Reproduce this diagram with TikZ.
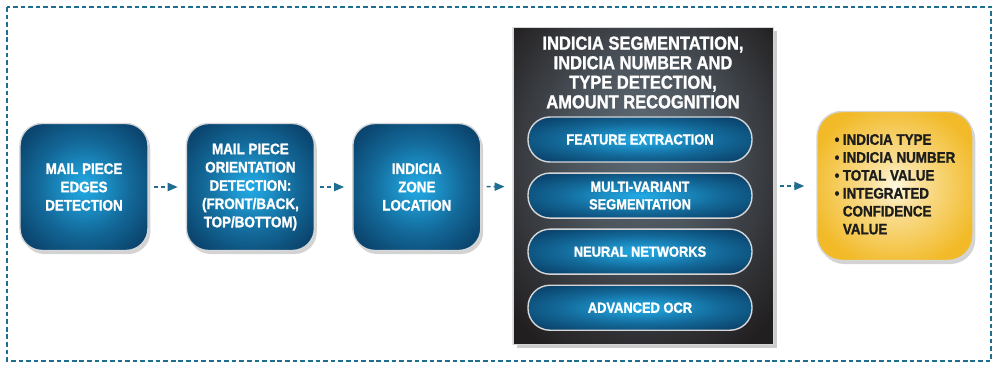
\documentclass[tikz,border=0pt]{standalone}
\usepackage{fontspec}
\newfontfamily\diagfont{Liberation Sans}[FakeStretch=0.88, FakeBold=1.3]
\usetikzlibrary{positioning,shadows,arrows.meta}

\definecolor{frameblue}{HTML}{1F6E92}
\definecolor{boxblue}{HTML}{0B4670}
\definecolor{glowcyan}{HTML}{22ABE6}
\definecolor{rimgray}{HTML}{D4D6D8}
\definecolor{panelblack}{HTML}{221F20}
\definecolor{panelglow}{HTML}{5E6B76}
\definecolor{gold}{HTML}{F2BA28}
\definecolor{goldlight}{HTML}{FEF8E2}
\definecolor{inkblack}{HTML}{1D1D1B}

% glow fills for the boxes
\pgfdeclareradialshading{blueglow}{\pgfpoint{0bp}{0bp}}{color(0bp)=(glowcyan); color(6bp)=(glowcyan!80!boxblue); color(18bp)=(glowcyan!35!boxblue); color(30bp)=(boxblue); color(50bp)=(boxblue)}
\pgfdeclareradialshading{panelshade}{\pgfpoint{0bp}{8bp}}{color(0bp)=(panelglow); color(14bp)=(panelglow!70!panelblack); color(34bp)=(panelblack); color(50bp)=(panelblack)}
\pgfdeclareradialshading{goldglow}{\pgfpoint{0bp}{0bp}}{color(0bp)=(goldlight); color(8bp)=(goldlight!60!gold); color(28bp)=(gold); color(50bp)=(gold)}

\begin{document}
\begin{tikzpicture}[x=0.03cm, y=-0.03cm,
    stage/.style={rectangle, rounded corners=0.66cm, minimum width=3.84cm, minimum height=3.81cm,
      draw=rimgray, line width=1.2pt, shade, shading=blueglow, text=white, align=center,
      font=\diagfont\bfseries\fontsize{13}{15.6}\selectfont,
      drop shadow={opacity=0.35, shadow xshift=2pt, shadow yshift=-3pt}},
    pill/.style={rectangle, rounded corners=0.66cm, minimum width=6.72cm, minimum height=1.35cm,
      draw=rimgray, line width=1.2pt, shade, shading=blueglow, text=white, align=center,
      font=\diagfont\bfseries\fontsize{12.5}{15}\selectfont},
    flow/.style={draw=frameblue, line width=1.3pt, dash pattern=on 3.5pt off 2.5pt,
      -{Triangle[length=8.5pt,width=7pt]}}]
  \useasboundingbox (0,0) rectangle (997,365);
  \draw[frameblue, line width=2pt, dash pattern=on 4pt off 2.5pt] (7,7) rectangle (991,361);

  \node [stage] (edges) at (84,187) {MAIL PIECE\\EDGES\\DETECTION};
  \node [stage, right=1.11cm of edges] (orient) {MAIL PIECE\\ORIENTATION\\DETECTION:\\(FRONT/BACK,\\TOP/BOTTOM)};
  \node [stage, right=1.11cm of orient] (zone) {INDICIA\\ZONE\\LOCATION};

  % recognition panel
  \node [rectangle, minimum width=7.8cm, minimum height=9.51cm, draw=rimgray, line width=0.8pt,
    shade, shading=panelshade, drop shadow={opacity=0.4, shadow xshift=3pt, shadow yshift=-3pt}]
    (panel) at (643,186) {};
  \node [text=white, align=center, font=\diagfont\bfseries\fontsize{16}{16.7}\selectfont]
    (title) at (643,72.5) {INDICIA SEGMENTATION,\\INDICIA NUMBER AND\\TYPE DETECTION,\\AMOUNT RECOGNITION};
  \node [pill] (feature) at (640,139.5) {FEATURE EXTRACTION};
  \node [pill, below=0.29cm of feature] (multi) {MULTI-VARIANT\\SEGMENTATION};
  \node [pill, below=0.29cm of multi] (neural) {NEURAL NETWORKS};
  \node [pill, below=0.29cm of neural] (ocr) {ADVANCED OCR};

  % output
  \node [rectangle, rounded corners=0.75cm, minimum width=4.68cm, minimum height=4.47cm,
    draw=rimgray, line width=1.2pt, shade, shading=goldglow, text=inkblack,
    font=\diagfont\bfseries\fontsize{13}{15.3}\selectfont,
    drop shadow={opacity=0.35, shadow xshift=2pt, shadow yshift=-3pt}] (result) at (895,186)
    {\begin{tabular}{@{}l@{\hspace{3pt}}l@{}}
      \textbullet & INDICIA TYPE\\
      \textbullet & INDICIA NUMBER\\
      \textbullet & TOTAL VALUE\\
      \textbullet & INTEGRATED\\
                  & CONFIDENCE\\
                  & VALUE
    \end{tabular}};

  \path (edges) edge [flow, shorten <=0.15cm, shorten >=0.24cm] (orient);
  \path (orient) edge [flow, shorten <=0.15cm, shorten >=0.24cm] (zone);
  \path (zone) edge [flow, shorten <=0.15cm, shorten >=0.24cm] (panel);
  \path (panel) edge [flow, shorten <=0.2cm, shorten >=0.36cm] (result);
\end{tikzpicture}
\end{document}
